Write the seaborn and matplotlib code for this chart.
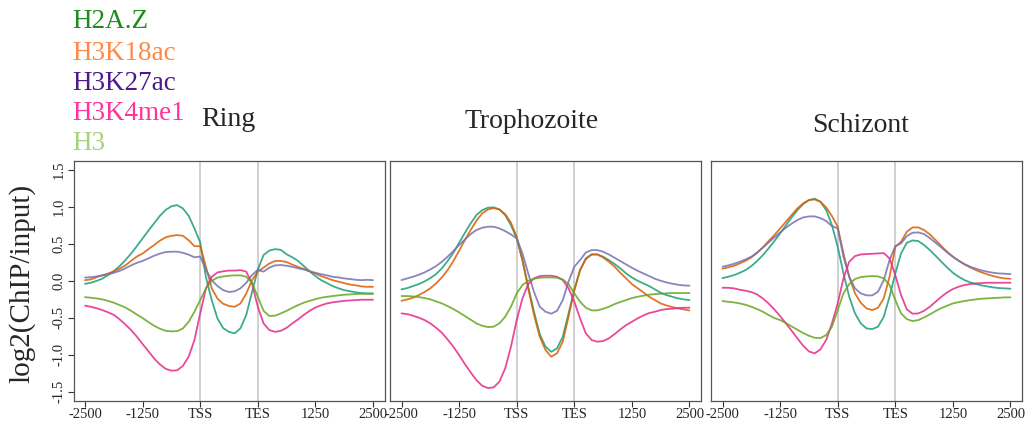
import numpy as np
import pandas as pd
import matplotlib
matplotlib.use("Agg")
import matplotlib.pyplot as plt
import seaborn as sns

# metaplot bins: -2500..TSS (20 bins), gene body scaled (10 bins), TES..+2500 (20 bins)
bins = np.arange(51) * 125
tick_pos = [0, 1250, 2500, 3750, 5000, 6250]
tick_labels = ["-2500", "-1250", "TSS", "TES", "1250", "2500"]
stages = ["Ring", "Trophozoite", "Schizont"]
marks = ["H2A.Z", "H3K18ac", "H3K27ac", "H3K4me1", "H3"]

ring_h2az = [-0.04, -0.025, 0.0, 0.03, 0.08, 0.13, 0.2, 0.28, 0.37, 0.47, 0.575, 0.68, 0.78, 0.88, 0.96, 1.01, 1.026, 0.98, 0.88, 0.71, 0.52,
             0.05, -0.26, -0.51, -0.64, -0.69, -0.71, -0.64, -0.46, -0.15,
             0.15, 0.35, 0.41, 0.43, 0.42, 0.36, 0.32, 0.27, 0.2, 0.13, 0.065, 0.01, -0.03, -0.07, -0.1, -0.125, -0.14, -0.155, -0.165, -0.17, -0.17]
ring_k18 = [0.01, 0.02, 0.05, 0.075, 0.1, 0.13, 0.165, 0.21, 0.27, 0.33, 0.37, 0.43, 0.485, 0.545, 0.59, 0.61, 0.62, 0.61, 0.55, 0.47, 0.47,
            0.19, -0.1, -0.24, -0.31, -0.34, -0.35, -0.305, -0.17, 0.01,
            0.125, 0.18, 0.235, 0.27, 0.27, 0.255, 0.22, 0.19, 0.16, 0.13, 0.1, 0.065, 0.038, 0.01, -0.01, -0.03, -0.05, -0.06, -0.075, -0.08, -0.08]
ring_k27 = [0.045, 0.05, 0.06, 0.075, 0.088, 0.11, 0.135, 0.17, 0.21, 0.245, 0.27, 0.305, 0.34, 0.37, 0.39, 0.395, 0.395, 0.38, 0.355, 0.32, 0.33,
            0.15, 0.01, -0.07, -0.125, -0.15, -0.14, -0.1, -0.025, 0.08,
            0.15, 0.125, 0.18, 0.21, 0.215, 0.205, 0.19, 0.17, 0.155, 0.13, 0.11, 0.09, 0.075, 0.055, 0.047, 0.034, 0.025, 0.015, 0.01, 0.015, 0.01]
ring_k4 = [-0.335, -0.35, -0.37, -0.395, -0.425, -0.46, -0.52, -0.59, -0.665, -0.755, -0.855, -0.95, -1.05, -1.13, -1.19, -1.215, -1.21, -1.15, -1.025, -0.8, -0.44,
           -0.1, 0.055, 0.115, 0.13, 0.14, 0.14, 0.146, 0.125, -0.035,
           -0.35, -0.575, -0.665, -0.69, -0.675, -0.635, -0.575, -0.52, -0.46, -0.405, -0.36, -0.33, -0.305, -0.29, -0.28, -0.27, -0.265, -0.26, -0.255, -0.255, -0.255]
ring_h3 = [-0.22, -0.228, -0.237, -0.25, -0.27, -0.295, -0.327, -0.36, -0.405, -0.455, -0.503, -0.557, -0.607, -0.647, -0.675, -0.683, -0.68, -0.643, -0.553, -0.417, -0.26,
           -0.1, 0.0, 0.045, 0.06, 0.07, 0.075, 0.075, 0.056, -0.025,
           -0.215, -0.405, -0.475, -0.47, -0.44, -0.405, -0.365, -0.327, -0.295, -0.27, -0.246, -0.228, -0.215, -0.205, -0.196, -0.187, -0.183, -0.178, -0.174, -0.174, -0.174]

troph_h2az = [-0.115, -0.097, -0.07, -0.043, -0.007, 0.038, 0.092, 0.17, 0.268, 0.38, 0.516, 0.65, 0.778, 0.89, 0.958, 0.99, 0.995, 0.967, 0.89, 0.755, 0.575,
              0.28, -0.08, -0.417, -0.72, -0.89, -0.96, -0.913, -0.755, -0.44,
              -0.124, 0.146, 0.304, 0.358, 0.358, 0.327, 0.282, 0.228, 0.169, 0.101, 0.047, 0.002, -0.034, -0.07, -0.115, -0.16, -0.192, -0.214, -0.237, -0.25, -0.26]
troph_k18 = [-0.27, -0.25, -0.228, -0.192, -0.151, -0.1, -0.034, 0.047, 0.146, 0.268, 0.408, 0.552, 0.688, 0.814, 0.913, 0.967, 0.985, 0.967, 0.904, 0.787, 0.598,
             0.28, -0.1, -0.46, -0.755, -0.936, -1.026, -0.98, -0.823, -0.485,
             -0.124, 0.146, 0.295, 0.358, 0.358, 0.318, 0.259, 0.192, 0.11, 0.034, -0.043, -0.1, -0.155, -0.214, -0.26, -0.305, -0.332, -0.354, -0.372, -0.386, -0.4]
troph_k27 = [0.011, 0.034, 0.056, 0.083, 0.115, 0.155, 0.2, 0.259, 0.327, 0.404, 0.485, 0.561, 0.634, 0.688, 0.719, 0.733, 0.733, 0.71, 0.674, 0.629, 0.575,
             0.372, 0.101, -0.147, -0.35, -0.417, -0.444, -0.404, -0.26, -0.011,
             0.192, 0.282, 0.385, 0.417, 0.417, 0.395, 0.358, 0.313, 0.268, 0.223, 0.178, 0.137, 0.101, 0.065, 0.029, 0.002, -0.02, -0.038, -0.052, -0.061, -0.065]
troph_k4 = [-0.44, -0.449, -0.471, -0.498, -0.53, -0.575, -0.634, -0.701, -0.792, -0.891, -1.004, -1.125, -1.238, -1.342, -1.419, -1.45, -1.441, -1.364, -1.184, -0.891, -0.53,
            -0.237, -0.043, 0.034, 0.065, 0.07, 0.07, 0.056, 0.011, -0.1,
            -0.282, -0.507, -0.71, -0.8, -0.823, -0.814, -0.778, -0.72, -0.656, -0.598, -0.553, -0.507, -0.467, -0.435, -0.417, -0.395, -0.381, -0.377, -0.368, -0.363, -0.363]
troph_h3 = [-0.205, -0.205, -0.21, -0.219, -0.232, -0.25, -0.277, -0.305, -0.341, -0.381, -0.426, -0.476, -0.525, -0.575, -0.607, -0.625, -0.62, -0.575, -0.485, -0.35, -0.169,
            -0.056, 0.002, 0.029, 0.043, 0.047, 0.047, 0.043, 0.02, -0.043,
            -0.169, -0.282, -0.363, -0.399, -0.399, -0.377, -0.35, -0.314, -0.286, -0.259, -0.232, -0.214, -0.2, -0.187, -0.178, -0.174, -0.169, -0.165, -0.165, -0.165, -0.165]

schiz_h2az = [0.038, 0.056, 0.079, 0.11, 0.146, 0.2, 0.268, 0.349, 0.44, 0.539, 0.643, 0.751, 0.859, 0.958, 1.04, 1.094, 1.112, 1.071, 0.958, 0.755, 0.462,
              0.101, -0.214, -0.44, -0.575, -0.643, -0.652, -0.62, -0.485, -0.214,
              0.101, 0.372, 0.516, 0.548, 0.539, 0.485, 0.417, 0.34, 0.259, 0.183, 0.11, 0.056, 0.011, -0.02, -0.043, -0.061, -0.075, -0.088, -0.097, -0.101, -0.106]
schiz_k18 = [0.165, 0.183, 0.205, 0.237, 0.273, 0.318, 0.381, 0.453, 0.539, 0.62, 0.71, 0.8, 0.891, 0.981, 1.049, 1.094, 1.103, 1.071, 0.994, 0.877, 0.733,
             0.372, 0.056, -0.169, -0.296, -0.372, -0.395, -0.363, -0.237, 0.056,
             0.46, 0.53, 0.665, 0.724, 0.724, 0.688, 0.629, 0.552, 0.471, 0.394, 0.327, 0.273, 0.223, 0.183, 0.146, 0.115, 0.088, 0.065, 0.047, 0.034, 0.029]
schiz_k27 = [0.192, 0.21, 0.232, 0.259, 0.291, 0.327, 0.381, 0.45, 0.52, 0.59, 0.655, 0.72, 0.775, 0.823, 0.859, 0.873, 0.873, 0.85, 0.81, 0.742, 0.71,
             0.327, 0.056, -0.101, -0.169, -0.196, -0.196, -0.147, 0.011, 0.282,
             0.471, 0.507, 0.606, 0.652, 0.656, 0.634, 0.579, 0.516, 0.453, 0.385, 0.327, 0.273, 0.228, 0.192, 0.165, 0.142, 0.124, 0.11, 0.101, 0.097, 0.092]
schiz_k4 = [-0.093, -0.093, -0.101, -0.12, -0.133, -0.151, -0.183, -0.237, -0.305, -0.386, -0.476, -0.575, -0.674, -0.778, -0.877, -0.954, -0.981, -0.927, -0.8, -0.575, -0.305,
            0.034, 0.259, 0.336, 0.358, 0.363, 0.367, 0.372, 0.376, 0.304,
            0.079, -0.192, -0.386, -0.444, -0.44, -0.404, -0.35, -0.282, -0.214, -0.156, -0.11, -0.079, -0.056, -0.043, -0.034, -0.029, -0.025, -0.025, -0.025, -0.025, -0.025]
schiz_h3 = [-0.273, -0.282, -0.291, -0.305, -0.323, -0.35, -0.381, -0.417, -0.462, -0.503, -0.53, -0.57, -0.616, -0.661, -0.706, -0.742, -0.77, -0.774, -0.733, -0.62, -0.395,
            -0.169, -0.043, 0.025, 0.052, 0.061, 0.065, 0.061, 0.034, -0.056,
            -0.259, -0.44, -0.517, -0.544, -0.53, -0.494, -0.453, -0.408, -0.368, -0.336, -0.305, -0.287, -0.273, -0.259, -0.25, -0.241, -0.237, -0.232, -0.228, -0.223, -0.223]

profiles = {
    "Ring": [ring_h2az, ring_k18, ring_k27, ring_k4, ring_h3],
    "Trophozoite": [troph_h2az, troph_k18, troph_k27, troph_k4, troph_h3],
    "Schizont": [schiz_h2az, schiz_k18, schiz_k27, schiz_k4, schiz_h3],
}

line_colors = sns.color_palette("Dark2", 5)
label_colors = ["#1d8b1d", "#ff8844", "#4d1a8a", "#ff3399", "#a6d27c"]

rows = []
for stage in stages:
    for mark, vals in zip(marks, profiles[stage]):
        for b, v in zip(bins, vals):
            rows.append((stage, mark, b, v))
df = pd.DataFrame(rows, columns=["stage", "mark", "pos", "value"])

sns.set_style("ticks")
plt.rcParams["font.family"] = ["Liberation Serif", "DejaVu Serif"]

fig = plt.figure(figsize=(10.28, 4.24), dpi=100)
lefts = [73.5, 390, 711]
title_pos = [(228, 119), (532, 121), (861, 126)]

for k, stage in enumerate(stages):
    ax = fig.add_axes([lefts[k] / 1028, 23.4 / 424, 311 / 1028, 239.4 / 424])
    ax.axvline(2500, color="#c8c8c8", lw=1.2, zorder=0)
    ax.axvline(3750, color="#c8c8c8", lw=1.2, zorder=0)
    sns.lineplot(data=df[df["stage"] == stage], x="pos", y="value", hue="mark",
                 hue_order=marks, palette=line_colors, estimator=None, sort=False,
                 legend=False, linewidth=1.3, alpha=0.85, ax=ax)
    ax.set_xlim(-250, 6500)
    ax.set_ylim(-1.62, 1.62)
    ax.set_xticks(tick_pos)
    ax.set_xticklabels(tick_labels, fontsize=10.5)
    ax.set_xlabel("")
    ax.set_ylabel("")
    ax.tick_params(axis="x", length=4, width=0.8, pad=1.5, color="#333333")
    if k == 0:
        ax.set_yticks([-1.5, -1.0, -0.5, 0.0, 0.5, 1.0, 1.5])
        ax.set_yticklabels(["-1.5", "-1.0", "-0.5", "0.0", "0.5", "1.0", "1.5"],
                           fontsize=10.5, rotation=90, va="center")
        ax.tick_params(axis="y", length=4, width=0.8, pad=1.5, color="#333333")
    else:
        ax.set_yticks([])
    for sp in ax.spines.values():
        sp.set_visible(True)
        sp.set_color("#555555")
        sp.set_linewidth(0.9)
    tx, ty = title_pos[k]
    fig.text(tx / 1028, 1 - ty / 424, stage, fontsize=20, ha="center", va="center")

fig.text(22 / 1028, 1 - 283 / 424, "log2(ChIP/input)", fontsize=21,
         rotation=90, ha="center", va="center")

legend_y = [22, 53, 83, 113, 143]
for mark, col, yp in zip(marks, label_colors, legend_y):
    fig.text(72 / 1028, 1 - yp / 424, mark, color=col, fontsize=19.5, ha="left", va="center")

fig.savefig("out.png", dpi=100)
